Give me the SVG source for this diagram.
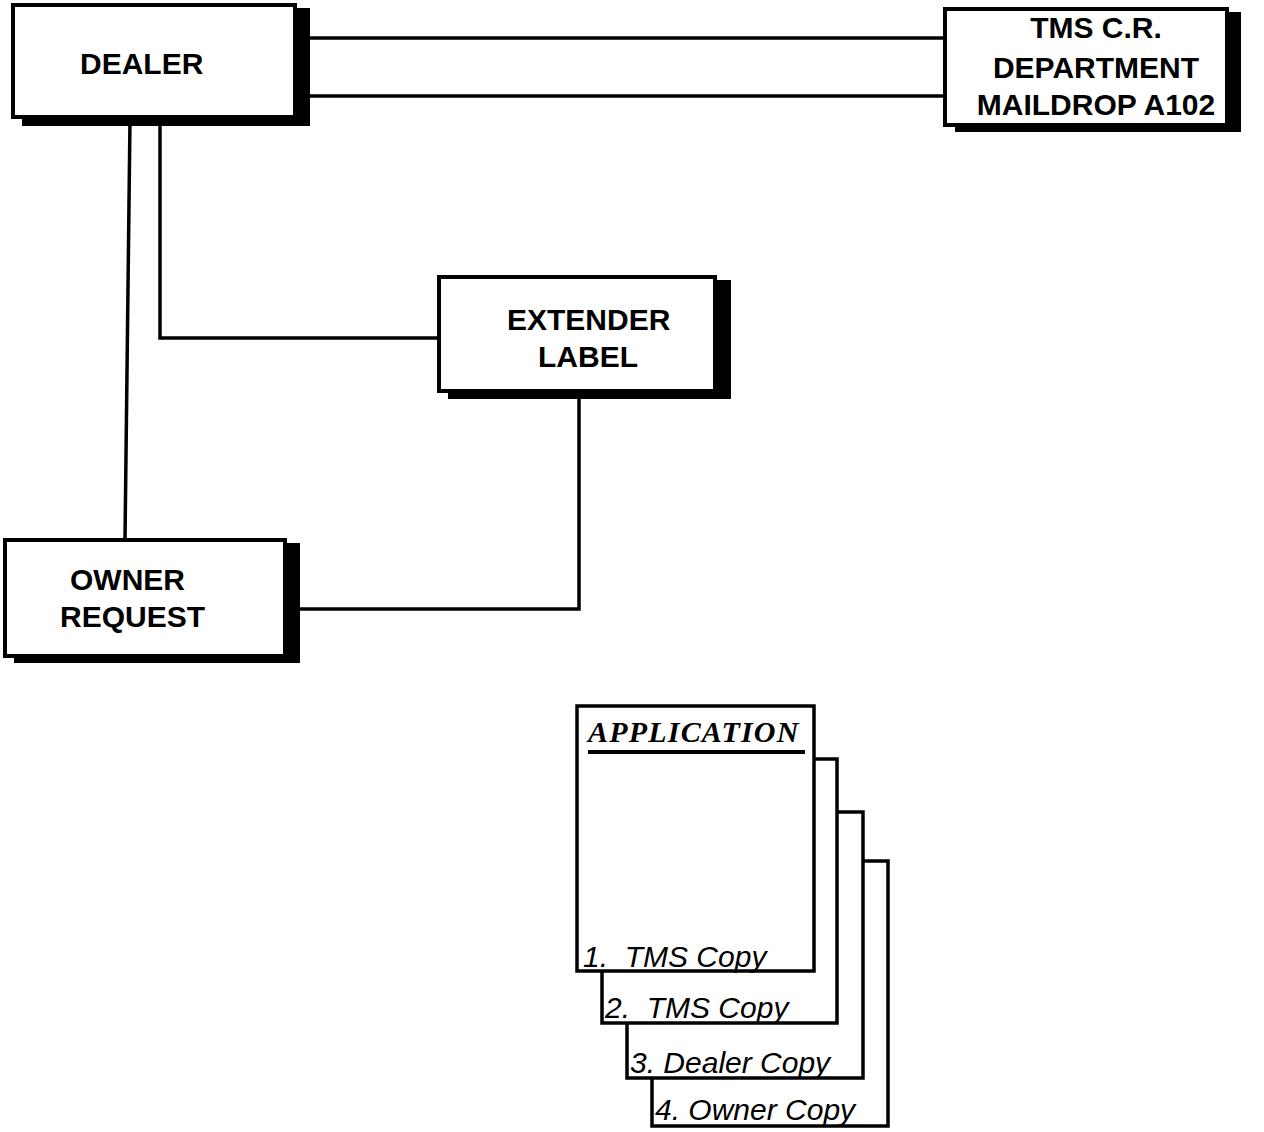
<svg xmlns="http://www.w3.org/2000/svg" width="1264" height="1132" viewBox="0 0 1264 1132">
<style>
.bg{fill:#fff}
.box{fill:#fff;stroke:#000;stroke-width:4}
.shadow{fill:#000}
.lbl{font-family:"Liberation Sans",Arial,sans-serif;font-weight:bold;font-size:30px;fill:#000}
.conn{fill:none;stroke:#000;stroke-width:3.5;stroke-linecap:butt;stroke-linejoin:miter}
.sheet{fill:#fff;stroke:#000;stroke-width:3.5}
.copy{font-family:"Liberation Sans",Arial,sans-serif;font-style:italic;font-size:30px;fill:#000;white-space:pre}
.title{font-family:"Liberation Serif","Times New Roman",serif;font-style:italic;font-weight:bold;font-size:30px;letter-spacing:1.2px;fill:#000}
</style>
<rect class="bg" x="0" y="0" width="1264" height="1132"/>
<g id="connectors">
<line class="conn" x1="300" y1="38" x2="945" y2="38"/>
<line class="conn" x1="300" y1="96" x2="945" y2="96"/>
<line class="conn" x1="130" y1="119" x2="125" y2="540"/>
<polyline class="conn" points="160,119 160,338 439,338"/>
<polyline class="conn" points="579,393 579,609 290,609"/>
</g>
<g id="dealer">
<rect class="shadow" x="22" y="8" width="288" height="118"/>
<rect class="box" x="13" y="5" width="282" height="112"/>
<text class="lbl" x="80" y="74">DEALER</text>
</g>
<g id="tms">
<rect class="shadow" x="955" y="12" width="286" height="120"/>
<rect class="box" x="945" y="9" width="282" height="116"/>
<text class="lbl" x="1096" y="38" text-anchor="middle">TMS C.R.</text>
<text class="lbl" x="1096" y="78" text-anchor="middle">DEPARTMENT</text>
<text class="lbl" x="1096" y="115" text-anchor="middle">MAILDROP A102</text>
</g>
<g id="extender">
<rect class="shadow" x="448" y="280" width="283" height="119"/>
<rect class="box" x="439" y="277" width="276" height="114"/>
<text class="lbl" x="507" y="330">EXTENDER</text>
<text class="lbl" x="538" y="367">LABEL</text>
</g>
<g id="owner">
<rect class="shadow" x="14" y="543" width="286" height="120"/>
<rect class="box" x="5" y="540" width="280" height="116"/>
<text class="lbl" x="70" y="590">OWNER</text>
<text class="lbl" x="60" y="627">REQUEST</text>
</g>
<g id="application">
<rect class="sheet" x="652" y="861" width="236" height="265"/>
<text class="copy" x="655" y="1120">4. Owner Copy</text>
<rect class="sheet" x="627" y="812" width="236" height="266"/>
<text class="copy" x="630" y="1073">3. Dealer Copy</text>
<rect class="sheet" x="602" y="759" width="235" height="264"/>
<text class="copy" x="605" y="1018">2.  TMS Copy</text>
<rect class="sheet" x="577" y="706" width="237" height="265"/>
<text class="copy" x="583" y="967">1.  TMS Copy</text>
<text class="title" x="588" y="742">APPLICATION</text>
<rect class="shadow" x="588" y="750" width="217" height="4"/>
</g>
</svg>
